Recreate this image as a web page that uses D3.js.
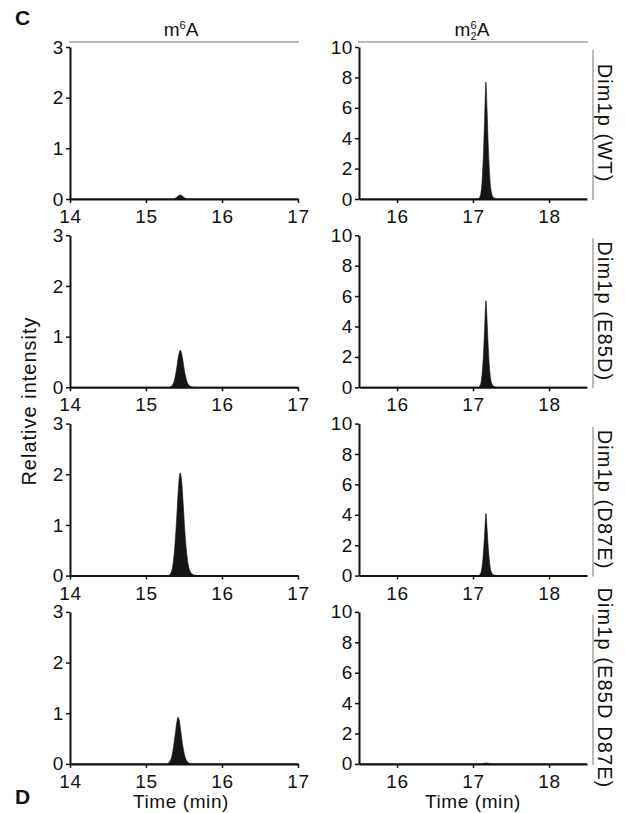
<!DOCTYPE html>
<html>
<head>
<meta charset="utf-8">
<script src="https://cdn.jsdelivr.net/npm/d3@7"></script>
<style>
body { margin: 0; background: #fff; }
text { font-family: "Liberation Sans", Arial, sans-serif; fill: #111; }
</style>
</head>
<body>
<svg id="fig" width="625" height="813"></svg>
<script>
// strip labels, one per row
var samples = ["Dim1p (WT)", "Dim1p (E85D)", "Dim1p (D87E)", "Dim1p (E85D D87E)"];

// axis ticks
var m6aTimeTicks = [14, 15, 16, 17];
var m62aTimeTicks = [16, 17, 18];
var m6aIntensityTicks = [0, 1, 2, 3];
var m62aIntensityTicks = [0, 2, 4, 6, 8, 10];

// m6A traces [time (min), relative intensity]
var m6a_WT = [[14, 0], [15.36, 0], [15.40, 0.03], [15.43, 0.07], [15.45, 0.08], [15.47, 0.07],
    [15.50, 0.03], [15.55, 0], [17, 0]];
var m6a_E85D = [[14, 0], [15.30, 0], [15.34, 0.03], [15.37, 0.12], [15.40, 0.34], [15.42, 0.55],
    [15.44, 0.70], [15.45, 0.73], [15.46, 0.71], [15.48, 0.58], [15.50, 0.38], [15.53, 0.16],
    [15.56, 0.05], [15.60, 0.01], [15.65, 0], [17, 0]];
var m6a_D87E = [[14, 0], [15.29, 0], [15.33, 0.06], [15.36, 0.28], [15.39, 0.80], [15.41, 1.30],
    [15.43, 1.80], [15.45, 2.03], [15.47, 1.85], [15.49, 1.40], [15.51, 0.90], [15.54, 0.38],
    [15.57, 0.12], [15.61, 0.03], [15.66, 0], [17, 0]];
var m6a_double = [[14, 0], [15.27, 0], [15.31, 0.04], [15.34, 0.15], [15.37, 0.42], [15.39, 0.65],
    [15.41, 0.86], [15.42, 0.92], [15.44, 0.84], [15.46, 0.62], [15.48, 0.40], [15.51, 0.16],
    [15.54, 0.05], [15.58, 0.01], [15.63, 0], [17, 0]];

// m6,6A (m2 6A) traces
var m62a_WT = [[15.5, 0], [17.07, 0], [17.10, 0.3], [17.12, 1.2], [17.14, 3.3], [17.155, 5.6],
    [17.17, 7.7], [17.185, 5.9], [17.20, 3.6], [17.22, 1.5], [17.24, 0.5], [17.27, 0.1],
    [17.32, 0], [18.5, 0]];
var m62a_E85D = [[15.5, 0], [17.07, 0], [17.10, 0.2], [17.12, 0.9], [17.14, 2.4], [17.155, 4.1],
    [17.17, 5.7], [17.185, 4.4], [17.20, 2.7], [17.22, 1.1], [17.24, 0.35], [17.27, 0.08],
    [17.32, 0], [18.5, 0]];
var m62a_D87E = [[15.5, 0], [17.07, 0], [17.10, 0.15], [17.12, 0.6], [17.14, 1.7], [17.155, 2.9],
    [17.17, 4.1], [17.185, 3.1], [17.20, 1.9], [17.22, 0.8], [17.24, 0.25], [17.27, 0.05],
    [17.32, 0], [18.5, 0]];
var m62a_double = [[15.5, 0], [17.08, 0], [17.13, 0.03], [17.17, 0.06], [17.21, 0.03],
    [17.26, 0], [18.5, 0]];

var m6aTraces = [m6a_WT, m6a_E85D, m6a_D87E, m6a_double];
var m62aTraces = [m62a_WT, m62a_E85D, m62a_D87E, m62a_double];

const svg = d3.select("#fig");
const fontSize = 19;

const firstTop = 47, rowStep = 188.3, panelHeight = 152;

const xLeft = d3.scaleLinear().domain([14, 17]).range([70, 298]);
const xRight = d3.scaleLinear().domain([15.5, 18.5]).range([359, 587]);

const columns = [
    {x: xLeft, yMax: 3, xTicks: m6aTimeTicks, yTicks: m6aIntensityTicks, traces: m6aTraces},
    {x: xRight, yMax: 10, xTicks: m62aTimeTicks, yTicks: m62aIntensityTicks, traces: m62aTraces}
];

// draw one chromatogram panel
function drawPanel(col, row) {
    const top = firstTop + row * rowStep;
    const y = d3.scaleLinear().domain([0, col.yMax]).range([top + panelHeight, top]);

    const area = d3.area()
        .x(d => col.x(d[0]))
        .y0(y(0))
        .y1(d => y(d[1]))
        .curve(d3.curveMonotoneX);

    svg.append("path")
        .datum(col.traces[row])
        .attr("d", area)
        .attr("fill", "#161616")
        .attr("stroke", "#161616")
        .attr("stroke-width", 0.6);

    const gy = svg.append("g")
        .attr("transform", `translate(${col.x.range()[0]},0)`)
        .call(d3.axisLeft(y).tickValues(col.yTicks).tickFormat(d3.format("d"))
            .tickSize(4).tickPadding(2).tickSizeOuter(0));

    const gx = svg.append("g")
        .attr("transform", `translate(0,${y(0)})`)
        .call(d3.axisBottom(col.x).tickValues(col.xTicks).tickFormat(d3.format("d"))
            .tickSize(4).tickSizeOuter(0));
    gx.selectAll("text").attr("y", 24).attr("dy", 0);

    [gx, gy].forEach(g => {
        g.select(".domain").attr("stroke", "#111").attr("stroke-width", 2);
        g.selectAll(".tick line").attr("stroke", "#111").attr("stroke-width", 1.5);
        g.selectAll("text")
            .style("font-family", '"Liberation Sans", Arial, sans-serif')
            .style("font-size", fontSize + "px")
            .style("letter-spacing", "0.6px")
            .attr("fill", "#111");
    });
}

samples.forEach((s, row) => {
    columns.forEach(col => drawPanel(col, row));

    // strip label on the right
    const top = firstTop + row * rowStep;
    svg.append("line")
        .attr("x1", 593).attr("x2", 593)
        .attr("y1", top + 3).attr("y2", top + panelHeight + 1)
        .attr("stroke", "#777").attr("stroke-width", 1);
    svg.append("text")
        .attr("transform", `translate(605,${top + panelHeight / 2}) rotate(90)`)
        .attr("text-anchor", "middle")
        .attr("dominant-baseline", "central")
        .style("font-size", (fontSize + 1) + "px")
        .style("letter-spacing", "1.1px")
        .text(s);
});

// column headers
svg.append("line").attr("x1", 69).attr("x2", 299).attr("y1", 42).attr("y2", 42)
    .attr("stroke", "#777").attr("stroke-width", 1);
svg.append("line").attr("x1", 358).attr("x2", 588).attr("y1", 42).attr("y2", 42)
    .attr("stroke", "#777").attr("stroke-width", 1);

const h1 = svg.append("text").attr("x", 181).attr("y", 36)
    .attr("text-anchor", "middle").style("font-size", fontSize + "px");
h1.append("tspan").text("m");
h1.append("tspan").attr("dy", -7).style("font-size", "11px").text("6");
h1.append("tspan").attr("dy", 7).text("A");

const h2 = svg.append("text").attr("x", 472).attr("y", 36)
    .attr("text-anchor", "middle").style("font-size", fontSize + "px");
h2.append("tspan").text("m");
h2.append("tspan").attr("dy", -7).style("font-size", "11px").text("6");
h2.append("tspan").attr("dx", -6).attr("dy", 11).style("font-size", "11px").text("2");
h2.append("tspan").attr("dy", -4).text("A");

// axis titles
svg.append("text")
    .attr("transform", "translate(29,401) rotate(-90)")
    .attr("text-anchor", "middle")
    .attr("dominant-baseline", "central")
    .style("font-size", (fontSize + 1) + "px")
    .style("letter-spacing", "1px")
    .text("Relative intensity");

[[181, 808], [473, 808]].forEach(p => {
    svg.append("text").attr("x", p[0]).attr("y", p[1])
        .attr("text-anchor", "middle")
        .style("font-size", fontSize + "px")
        .style("letter-spacing", "0.6px")
        .text("Time (min)");
});

// panel letters
svg.append("text").attr("x", 15).attr("y", 25)
    .style("font-size", "21px").style("font-weight", "bold").text("C");
svg.append("text").attr("x", 15).attr("y", 804)
    .style("font-size", "21px").style("font-weight", "bold").text("D");
</script>
</body>
</html>
